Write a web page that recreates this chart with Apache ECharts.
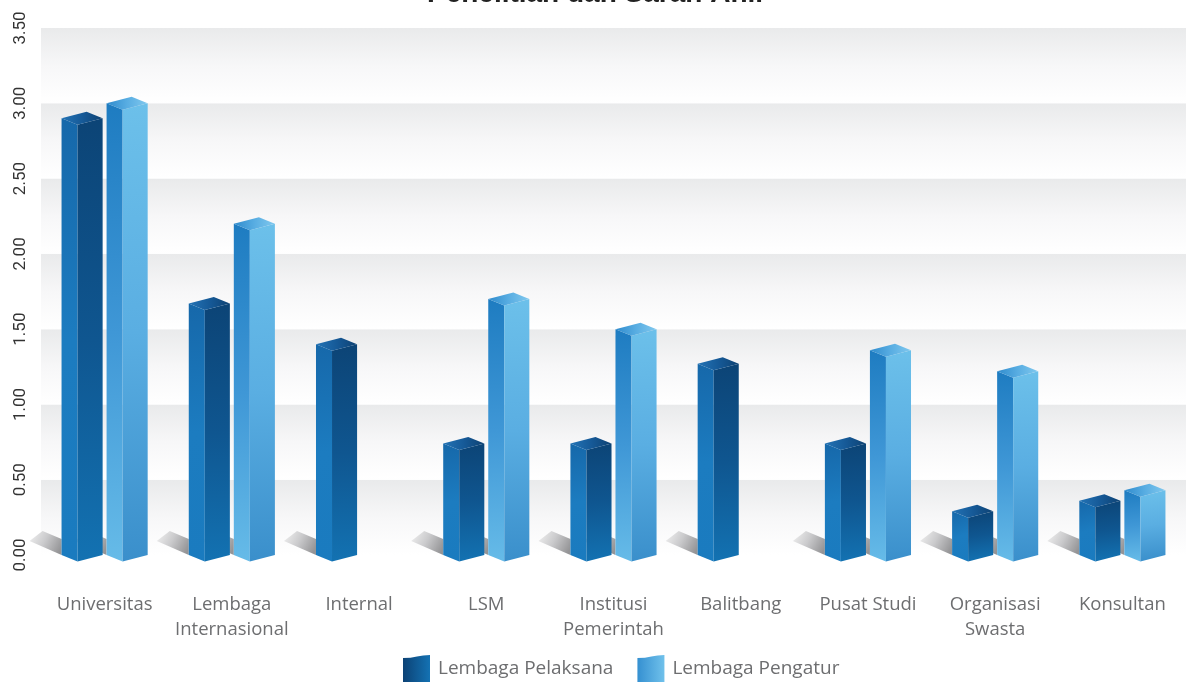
<!DOCTYPE html>
<html><head><meta charset="utf-8">
<script src="https://cdn.jsdelivr.net/npm/echarts@6/dist/echarts.min.js"></script>
<style>html,body{margin:0;padding:0;background:#fff}#c{width:1190px;height:682px}</style>
</head><body><div id="c"></div>
<script>
const titleText = 'Penelitian dan Saran Ahli';
const categories = ['Universitas','Lembaga\nInternasional','Internal','LSM','Institusi\nPemerintah','Balitbang','Pusat Studi','Organisasi\nSwasta','Konsultan'];
const seriesNames = ['Lembaga Pelaksana','Lembaga Pengatur'];
const pelaksana = [2.90, 1.67, 1.40, 0.74, 0.74, 1.27, 0.74, 0.29, 0.36];
const pengatur  = [3.00, 2.20, null, 1.70, 1.50, null, 1.36, 1.22, 0.43];
const yMin = 0, yMax = 3.5, yStep = 0.5;

const G = (x, y, x2, y2, stops) => new echarts.graphic.LinearGradient(x, y, x2, y2,
  stops.map((c, i) => ({ offset: i / (stops.length - 1), color: c })));

const palettes = [
  { left: G(0,0,1,1,['#1668aa','#1c7cc0','#1a7bbf']), right: G(0,0,0.3,1,['#0c4476','#0f5690','#1372b2']), cap: G(0,0,1,0,['#2373b5','#165a98','#0e4273']) },
  { left: G(0,0,0.4,1,['#1e7cc1','#3f97d6','#66bbe8']), right: G(0,0,0.3,1,['#6cc0ea','#5aaee2','#3a8fcb']), cap: G(0,0,1,0,['#2f8bcd','#58ade2','#80c8ee']) }
];

function toData(arr) {
  const out = [];
  arr.forEach((v, i) => { if (v !== null) out.push([i, v]); });
  return out;
}

function geom(api, slot) {
  const ci = api.value(0), v = api.value(1);
  const base = api.coord([ci, 0]);
  const top = api.coord([ci, v]);
  const bw = api.size([1, 0])[0];
  const w = bw * 0.323, gap = bw * 0.031;
  const xL = slot === 0 ? base[0] - gap / 2 - w : base[0] + gap / 2;
  return { xL, w, yT: top[1], yB: base[1] };
}

function barRender(slot) {
  const pal = palettes[slot];
  return function (params, api) {
    const g = geom(api, slot);
    const d = 6.5;
    const xL = g.xL, xF = xL + g.w * 0.39, xR = xL + g.w, xB = xL + g.w * 0.61;
    const yT = g.yT, yB = g.yB;
    return { type: 'group', children: [
      { type: 'polygon', shape: { points: [[xL, yT], [xF, yT + d], [xF, yB + d], [xL, yB]] }, style: { fill: pal.left } },
      { type: 'polygon', shape: { points: [[xF, yT + d], [xR, yT], [xR, yB], [xF, yB + d]] }, style: { fill: pal.right } },
      { type: 'polygon', shape: { points: [[xL, yT], [xB, yT - d], [xR, yT], [xF, yT + d]] }, style: { fill: pal.cap } }
    ]};
  };
}

function shadowRender(slot) {
  return function (params, api) {
    const g = geom(api, slot);
    const xL = g.xL, yB = g.yB;
    return { type: 'polygon', shape: { points: [[xL - 19, yB - 24], [xL, yB - 16], [xL, yB], [xL - 32, yB - 14]] },
      style: { fill: G(0, 0, 1, 0.7, ['#f2f2f2', '#cacacc', '#949496']) } };
  };
}

const chart = echarts.init(document.getElementById('c'), null, { renderer: 'canvas' });
const legendColors = [G(0,0,1,0,['#0c4275','#1472b3']), G(0,0,1,0,['#3590d1','#70c1eb'])];
const legendIcon = 'path://M0,3 Q8,3 14,1.5 T27,0 L27,27 L0,27 Z';

chart.setOption({
  animation: false,
  title: { text: titleText, left: 'center', top: -20, padding: 0,
    textStyle: { fontFamily: 'Liberation Sans', fontWeight: 'bold', fontSize: 28, color: '#222' } },
  grid: { left: 41, right: 4, top: 28, bottom: 127 },
  legend: {
    left: 403, top: 655, padding: 0, itemWidth: 27, itemHeight: 27, itemGap: 24,
    textStyle: { fontFamily: 'Open Sans', fontSize: 19, color: '#6d6e70', padding: [0, 0, 0, 3] },
    data: seriesNames.map((n, i) => ({ name: n, icon: legendIcon, itemStyle: { color: legendColors[i] } }))
  },
  xAxis: {
    type: 'category', data: categories,
    axisLine: { show: false }, axisTick: { show: false },
    axisLabel: { interval: 0, margin: 37, fontFamily: 'Open Sans', fontSize: 18.5, lineHeight: 25, color: '#6d6e70' }
  },
  yAxis: {
    type: 'value', min: yMin, max: yMax, interval: yStep,
    axisLine: { show: false }, axisTick: { show: false }, splitLine: { show: false },
    splitArea: { show: true, areaStyle: { color: [G(0, 0, 0, 1, ['#e9eaeb', '#f7f7f8', '#ffffff'])] } },
    axisLabel: { rotate: 90, margin: 12, fontFamily: 'Roboto', fontSize: 17, color: '#333',
      formatter: v => v.toFixed(2) }
  },
  series: [
    { name: 'shadow-b', type: 'custom', z: 1, silent: true, renderItem: shadowRender(1), data: toData(pengatur) },
    { name: 'shadow-a', type: 'custom', z: 1, silent: true, renderItem: shadowRender(0), data: toData(pelaksana) },
    { name: seriesNames[0], type: 'custom', z: 3, renderItem: barRender(0), data: toData(pelaksana), itemStyle: { color: legendColors[0] } },
    { name: seriesNames[1], type: 'custom', z: 2, renderItem: barRender(1), data: toData(pengatur), itemStyle: { color: legendColors[1] } }
  ]
});
</script></body></html>
